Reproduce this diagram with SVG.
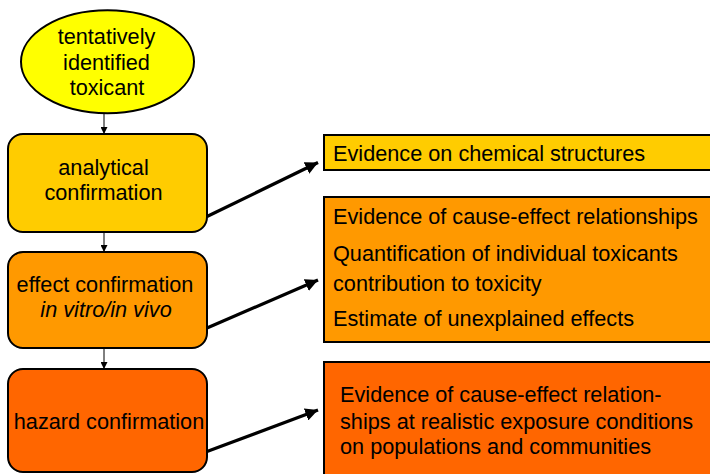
<svg xmlns="http://www.w3.org/2000/svg" width="710" height="474" viewBox="0 0 710 474">
<style>
text{font-family:"Liberation Sans",Arial,sans-serif;font-size:21.7px;fill:#000}
.c{text-anchor:middle}
.node{stroke:#000;stroke-width:2}
.thin{stroke:#000;stroke-width:1;fill:none}
.thick{stroke:#000;stroke-width:3.2;fill:none}
</style>
<defs>
<marker id="sa" viewBox="0 0 10 10" refX="10" refY="5" markerWidth="7" markerHeight="7" markerUnits="userSpaceOnUse" orient="auto"><path d="M0,0 L10,5 L0,10 z" fill="#000"/></marker>
<marker id="ba" viewBox="0 0 10 10" refX="10" refY="5" markerWidth="4" markerHeight="4" orient="auto"><path d="M0,0 L10,5 L0,10 z" fill="#000"/></marker>
</defs>
<rect width="710" height="474" fill="#fff"/>
<g id="connectors">
<line class="thin" x1="104" y1="113" x2="104" y2="134" marker-end="url(#sa)"/>
<line class="thin" x1="104" y1="232" x2="104" y2="252" marker-end="url(#sa)"/>
<line class="thin" x1="104" y1="348" x2="104" y2="369" marker-end="url(#sa)"/>
<line class="thick" x1="207" y1="216.5" x2="318" y2="162.5" marker-end="url(#ba)"/>
<line class="thick" x1="207" y1="328" x2="318" y2="280" marker-end="url(#ba)"/>
<line class="thick" x1="207" y1="451.5" x2="318" y2="410" marker-end="url(#ba)"/>
</g>
<g id="toxicant">
<ellipse class="node" cx="107.5" cy="61.7" rx="86.5" ry="51.5" fill="#FFFF00"/>
<text class="c" x="106.5" y="44">tentatively</text>
<text class="c" x="106.5" y="69.5">identified</text>
<text class="c" x="107" y="95">toxicant</text>
</g>
<g id="analytical">
<rect class="node" x="8" y="134" width="199" height="98" rx="15" fill="#FFCC00"/>
<text class="c" x="103.5" y="175">analytical</text>
<text class="c" x="103.5" y="200">confirmation</text>
</g>
<g id="effect">
<rect class="node" x="8" y="252" width="199" height="96" rx="15" fill="#FF9900"/>
<text class="c" x="105" y="292">effect confirmation</text>
<text class="c" x="106" y="317" font-style="italic">in vitro/in vivo</text>
</g>
<g id="hazard">
<rect class="node" x="8" y="369" width="199" height="103" rx="15" fill="#FF6600"/>
<text class="c" x="109" y="429">hazard confirmation</text>
</g>
<g id="ev-chemical">
<rect class="node" x="324" y="135" width="400" height="35" fill="#FFCC00"/>
<text x="333" y="161">Evidence on chemical structures</text>
</g>
<g id="ev-cause">
<rect class="node" x="324" y="197" width="400" height="145" fill="#FF9900"/>
<text x="333" y="224">Evidence of cause-effect relationships</text>
<text x="333" y="260.5">Quantification of individual toxicants</text>
<text x="333" y="290.5">contribution to toxicity</text>
<text x="333" y="326">Estimate of unexplained effects</text>
</g>
<g id="ev-realistic">
<rect class="node" x="324" y="362" width="400" height="130" fill="#FF6600"/>
<text x="340" y="401.5">Evidence of cause-effect relation-</text>
<text x="340" y="429">ships at realistic exposure conditions</text>
<text x="340" y="454">on populations and communities</text>
</g>
</svg>
